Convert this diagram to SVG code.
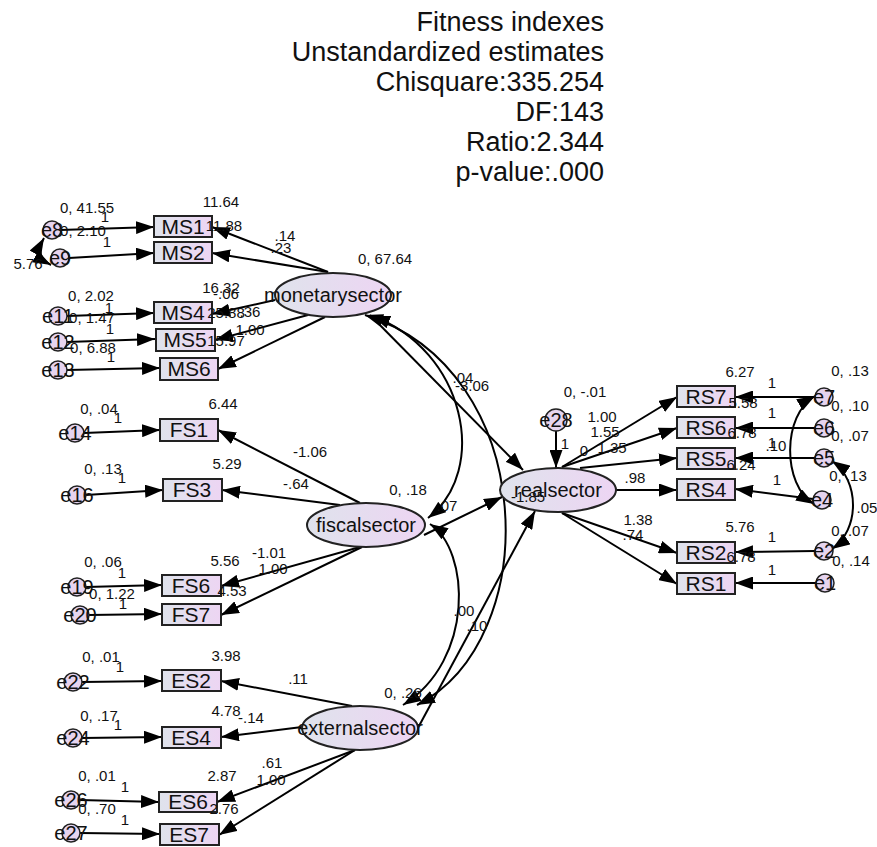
<svg xmlns="http://www.w3.org/2000/svg" width="877" height="847" viewBox="0 0 877 847">
<defs>
<linearGradient id="g" x1="0" y1="0" x2="1" y2="0">
<stop offset="0" stop-color="#dfe3ec"/>
<stop offset="1" stop-color="#edd5f3"/>
</linearGradient>
<marker id="ah" viewBox="0 0 18 13" refX="18" refY="6.5" markerWidth="18" markerHeight="13" markerUnits="userSpaceOnUse" orient="auto-start-reverse">
<path d="M0,0 L18,6.5 L0,13 z" fill="#000"/>
</marker>
<style>
.t{font-family:"Liberation Sans",Arial,sans-serif;fill:#111}
.title{font-size:27px;text-anchor:end}
.lab{font-size:15px;text-anchor:middle}
.nt{font-size:21px;text-anchor:middle}
.lt{font-size:20px;text-anchor:middle}
.et{font-size:20px;text-anchor:middle}
.box{fill:url(#g);stroke:#222;stroke-width:2}
.lat{fill:url(#g);stroke:#222;stroke-width:2}
.err{fill:#e6d4ef;stroke:#222;stroke-width:1.5}
.c{fill:none;stroke:#000;stroke-width:2;marker-end:url(#ah)}
.cv{fill:none;stroke:#000;stroke-width:2;marker-end:url(#ah);marker-start:url(#ah)}
</style>
</defs>
<rect width="877" height="847" fill="#fff"/>
<g id="title" class="t title">
<text x="604" y="31">Fitness indexes</text>
<text x="604" y="61">Unstandardized estimates</text>
<text x="604" y="91">Chisquare:335.254</text>
<text x="604" y="121">DF:143</text>
<text x="604" y="151">Ratio:2.344</text>
<text x="604" y="181">p-value:.000</text>
</g>
<g id="connectors">
<path class="c" d="M60,230 L154,227"/>
<path class="c" d="M69,258 L154,253"/>
<path class="cv" d="M44,238 Q34,256 51,265"/>
<path class="c" d="M67,316 L154,313"/>
<path class="c" d="M67,342 L155,339"/>
<path class="c" d="M67,370 L160,368"/>
<path class="c" d="M84,433 L160,430"/>
<path class="c" d="M86,495 L163,490"/>
<path class="c" d="M86,587 L162,585"/>
<path class="c" d="M89,615 L162,614"/>
<path class="c" d="M82,682 L162,681"/>
<path class="c" d="M82,738 L162,737"/>
<path class="c" d="M80,800 L159,802"/>
<path class="c" d="M80,833 L160,834"/>
<path class="c" d="M328,272 L212,227"/>
<path class="c" d="M328,272 L212,253"/>
<path class="c" d="M275,300 L212,314"/>
<path class="c" d="M308,315 L215,340"/>
<path class="c" d="M325,317 L218,369"/>
<path class="c" d="M360,503 L218,430"/>
<path class="c" d="M340,505 L222,490"/>
<path class="c" d="M360,547 L221,586"/>
<path class="c" d="M362,547 L221,615"/>
<path class="c" d="M352,706 L221,681"/>
<path class="c" d="M302,727 L221,737"/>
<path class="c" d="M355,750 L217,802"/>
<path class="c" d="M355,750 L219,835"/>
<path class="c" d="M370,315 L523,470"/>
<path class="c" d="M424,535 L502,497"/>
<path class="c" d="M419,726 L535,511"/>
<path class="cv" d="M372,316 C465,350 490,470 428,518"/>
<path class="cv" d="M365,315 C540,370 545,640 417,705"/>
<path class="cv" d="M430,524 C470,550 475,660 403,705"/>
<path class="c" d="M556,431 L556,468"/>
<path class="c" d="M562,467 L677,397"/>
<path class="c" d="M562,467 L677,428"/>
<path class="c" d="M580,468 L677,458"/>
<path class="c" d="M616,490 L677,490"/>
<path class="c" d="M562,513 L677,553"/>
<path class="c" d="M562,513 L677,584"/>
<path class="c" d="M815,397 L735,397"/>
<path class="c" d="M815,428 L735,428"/>
<path class="c" d="M815,458 L735,458"/>
<path class="c" d="M813,499 L735,489"/>
<path class="c" d="M815,551 L735,552"/>
<path class="c" d="M816,583 L735,583"/>
<path class="cv" d="M815,396 C782,415 782,485 814,504"/>
<path class="cv" d="M832,461 C860,480 860,530 832,549"/>
</g>
<g id="MS1"><rect class="box" x="154" y="216" width="58" height="21"/><text class="t nt" x="183" y="234">MS1</text></g>
<g id="MS2"><rect class="box" x="154" y="242" width="58" height="21"/><text class="t nt" x="183" y="260">MS2</text></g>
<g id="MS4"><rect class="box" x="154" y="302" width="58" height="21"/><text class="t nt" x="183" y="320">MS4</text></g>
<g id="MS5"><rect class="box" x="156" y="329" width="59" height="22"/><text class="t nt" x="185" y="347">MS5</text></g>
<g id="MS6"><rect class="box" x="160" y="358" width="58" height="22"/><text class="t nt" x="189" y="376">MS6</text></g>
<g id="FS1"><rect class="box" x="160" y="419" width="58" height="22"/><text class="t nt" x="189" y="437">FS1</text></g>
<g id="FS3"><rect class="box" x="163" y="479" width="59" height="22"/><text class="t nt" x="192" y="497">FS3</text></g>
<g id="FS6"><rect class="box" x="162" y="575" width="59" height="21"/><text class="t nt" x="191" y="593">FS6</text></g>
<g id="FS7"><rect class="box" x="162" y="604" width="59" height="21"/><text class="t nt" x="191" y="622">FS7</text></g>
<g id="ES2"><rect class="box" x="162" y="670" width="59" height="21"/><text class="t nt" x="191" y="688">ES2</text></g>
<g id="ES4"><rect class="box" x="162" y="727" width="59" height="21"/><text class="t nt" x="191" y="745">ES4</text></g>
<g id="ES6"><rect class="box" x="159" y="792" width="58" height="20"/><text class="t nt" x="188" y="809">ES6</text></g>
<g id="ES7"><rect class="box" x="160" y="824" width="59" height="21"/><text class="t nt" x="189" y="842">ES7</text></g>
<g id="RS7"><rect class="box" x="677" y="386" width="58" height="21"/><text class="t nt" x="706" y="404">RS7</text></g>
<g id="RS6"><rect class="box" x="677" y="417" width="58" height="21"/><text class="t nt" x="706" y="435">RS6</text></g>
<g id="RS5"><rect class="box" x="677" y="448" width="58" height="21"/><text class="t nt" x="706" y="466">RS5</text></g>
<g id="RS4"><rect class="box" x="677" y="479" width="58" height="21"/><text class="t nt" x="706" y="497">RS4</text></g>
<g id="RS2"><rect class="box" x="677" y="542" width="58" height="21"/><text class="t nt" x="706" y="560">RS2</text></g>
<g id="RS1"><rect class="box" x="677" y="573" width="58" height="21"/><text class="t nt" x="706" y="591">RS1</text></g>
<g id="monetarysector"><ellipse class="lat" cx="333" cy="295" rx="58" ry="22"/><text class="t lt" x="333" y="302">monetarysector</text></g>
<g id="fiscalsector"><ellipse class="lat" cx="366" cy="525" rx="59" ry="22"/><text class="t lt" x="366" y="532">fiscalsector</text></g>
<g id="realsector"><ellipse class="lat" cx="558" cy="490" rx="58" ry="22"/><text class="t lt" x="558" y="497">realsector</text></g>
<g id="externalsector"><ellipse class="lat" cx="360" cy="728" rx="58" ry="22"/><text class="t lt" x="360" y="735">externalsector</text></g>
<g id="e8"><circle class="err" cx="52" cy="230" r="9"/><text class="t et" x="52" y="237">e8</text></g>
<g id="e9"><circle class="err" cx="60" cy="258" r="9"/><text class="t et" x="60" y="265">e9</text></g>
<g id="e11"><circle class="err" cx="58" cy="316" r="9"/><text class="t et" x="58" y="323">e11</text></g>
<g id="e12"><circle class="err" cx="58" cy="342" r="9"/><text class="t et" x="58" y="349">e12</text></g>
<g id="e13"><circle class="err" cx="58" cy="370" r="9"/><text class="t et" x="58" y="377">e13</text></g>
<g id="e14"><circle class="err" cx="75" cy="433" r="9"/><text class="t et" x="75" y="440">e14</text></g>
<g id="e16"><circle class="err" cx="77" cy="495" r="9"/><text class="t et" x="77" y="502">e16</text></g>
<g id="e19"><circle class="err" cx="77" cy="587" r="9"/><text class="t et" x="77" y="594">e19</text></g>
<g id="e20"><circle class="err" cx="80" cy="615" r="9"/><text class="t et" x="80" y="622">e20</text></g>
<g id="e22"><circle class="err" cx="73" cy="682" r="9"/><text class="t et" x="73" y="689">e22</text></g>
<g id="e24"><circle class="err" cx="73" cy="738" r="9"/><text class="t et" x="73" y="745">e24</text></g>
<g id="e26"><circle class="err" cx="71" cy="800" r="9"/><text class="t et" x="71" y="807">e26</text></g>
<g id="e27"><circle class="err" cx="71" cy="833" r="9"/><text class="t et" x="71" y="840">e27</text></g>
<g id="e28"><circle class="err" cx="556" cy="420" r="11"/><text class="t et" x="556" y="427">e28</text></g>
<g id="e7"><circle class="err" cx="824" cy="397" r="9"/><text class="t et" x="824" y="404">e7</text></g>
<g id="e6"><circle class="err" cx="824" cy="428" r="9"/><text class="t et" x="824" y="435">e6</text></g>
<g id="e5"><circle class="err" cx="824" cy="458" r="9"/><text class="t et" x="824" y="465">e5</text></g>
<g id="e4"><circle class="err" cx="822" cy="500" r="9"/><text class="t et" x="822" y="507">e4</text></g>
<g id="e2"><circle class="err" cx="824" cy="551" r="9"/><text class="t et" x="824" y="558">e2</text></g>
<g id="e1"><circle class="err" cx="825" cy="583" r="9"/><text class="t et" x="825" y="590">e1</text></g>
<g id="labels" class="t lab">
<text x="87" y="213">0, 41.55</text><text x="105" y="222">1</text>
<text x="221" y="207">11.64</text><text x="224" y="231">11.88</text>
<text x="285" y="241">.14</text><text x="281" y="253">.23</text>
<text x="83" y="236">0, 2.10</text><text x="107" y="247">1</text>
<text x="28" y="269">5.76</text>
<text x="385" y="264">0, 67.64</text>
<text x="91" y="301">0, 2.02</text><text x="109" y="313">1</text>
<text x="221" y="293">16.32</text><text x="226" y="299">-.06</text>
<text x="226" y="318">25.88</text><text x="250" y="317">.36</text>
<text x="92" y="323">0, 1.47</text><text x="110" y="334">1</text>
<text x="250" y="335">1.00</text><text x="226" y="346">15.97</text>
<text x="93" y="353">0, 6.88</text><text x="111" y="362">1</text>
<text x="99" y="414">0, .04</text><text x="118" y="423">1</text>
<text x="223" y="409">6.44</text>
<text x="103" y="474">0, .13</text><text x="122" y="483">1</text>
<text x="227" y="469">5.29</text>
<text x="310" y="457">-1.06</text><text x="296" y="489">-.64</text>
<text x="408" y="495">0, .18</text><text x="447" y="511">.07</text>
<text x="463" y="383">.04</text><text x="472" y="391">-3.06</text>
<text x="103" y="567">0, .06</text><text x="122" y="578">1</text>
<text x="225" y="566">5.56</text>
<text x="269" y="558">-1.01</text><text x="273" y="574">1.00</text>
<text x="232" y="596">4.53</text>
<text x="112" y="599">0, 1.22</text><text x="123" y="609">1</text>
<text x="101" y="662">0, .01</text><text x="120" y="672">1</text>
<text x="226" y="661">3.98</text><text x="298" y="684">.11</text>
<text x="99" y="721">0, .17</text><text x="118" y="730">1</text>
<text x="226" y="716">4.78</text><text x="251" y="723">-.14</text>
<text x="403" y="698">0, .26</text>
<text x="464" y="616">.00</text><text x="477" y="631">.10</text>
<text x="97" y="781">0, .01</text><text x="125" y="792">1</text>
<text x="222" y="781">2.87</text><text x="272" y="768">.61</text><text x="271" y="785">1.00</text>
<text x="97" y="814">0, .70</text><text x="125" y="825">1</text>
<text x="224" y="814">2.76</text>
<text x="585" y="397">0, -.01</text>
<text x="602" y="422">1.00</text><text x="605" y="437">1.55</text><text x="612" y="453">1.35</text>
<text x="584" y="456">0</text><text x="565" y="449">1</text>
<text x="635" y="483">.98</text>
<text x="638" y="525">1.38</text><text x="633" y="540">.74</text>
<text x="528" y="502">-1.85</text>
<text x="740" y="377">6.27</text><text x="772" y="388">1</text><text x="743" y="408">5.58</text>
<text x="772" y="418">1</text><text x="742" y="438">6.78</text>
<text x="772" y="448">1</text><text x="776" y="451">.10</text>
<text x="741" y="470">6.24</text>
<text x="777" y="485">1</text>
<text x="740" y="532">5.76</text><text x="772" y="542">1</text><text x="741" y="562">6.78</text>
<text x="772" y="575">1</text>
<text x="850" y="376">0, .13</text><text x="850" y="411">0, .10</text><text x="850" y="441">0, .07</text>
<text x="848" y="481">0, .13</text><text x="867" y="513">.05</text>
<text x="850" y="536">0, .07</text><text x="851" y="566">0, .14</text>
</g>
</svg>
